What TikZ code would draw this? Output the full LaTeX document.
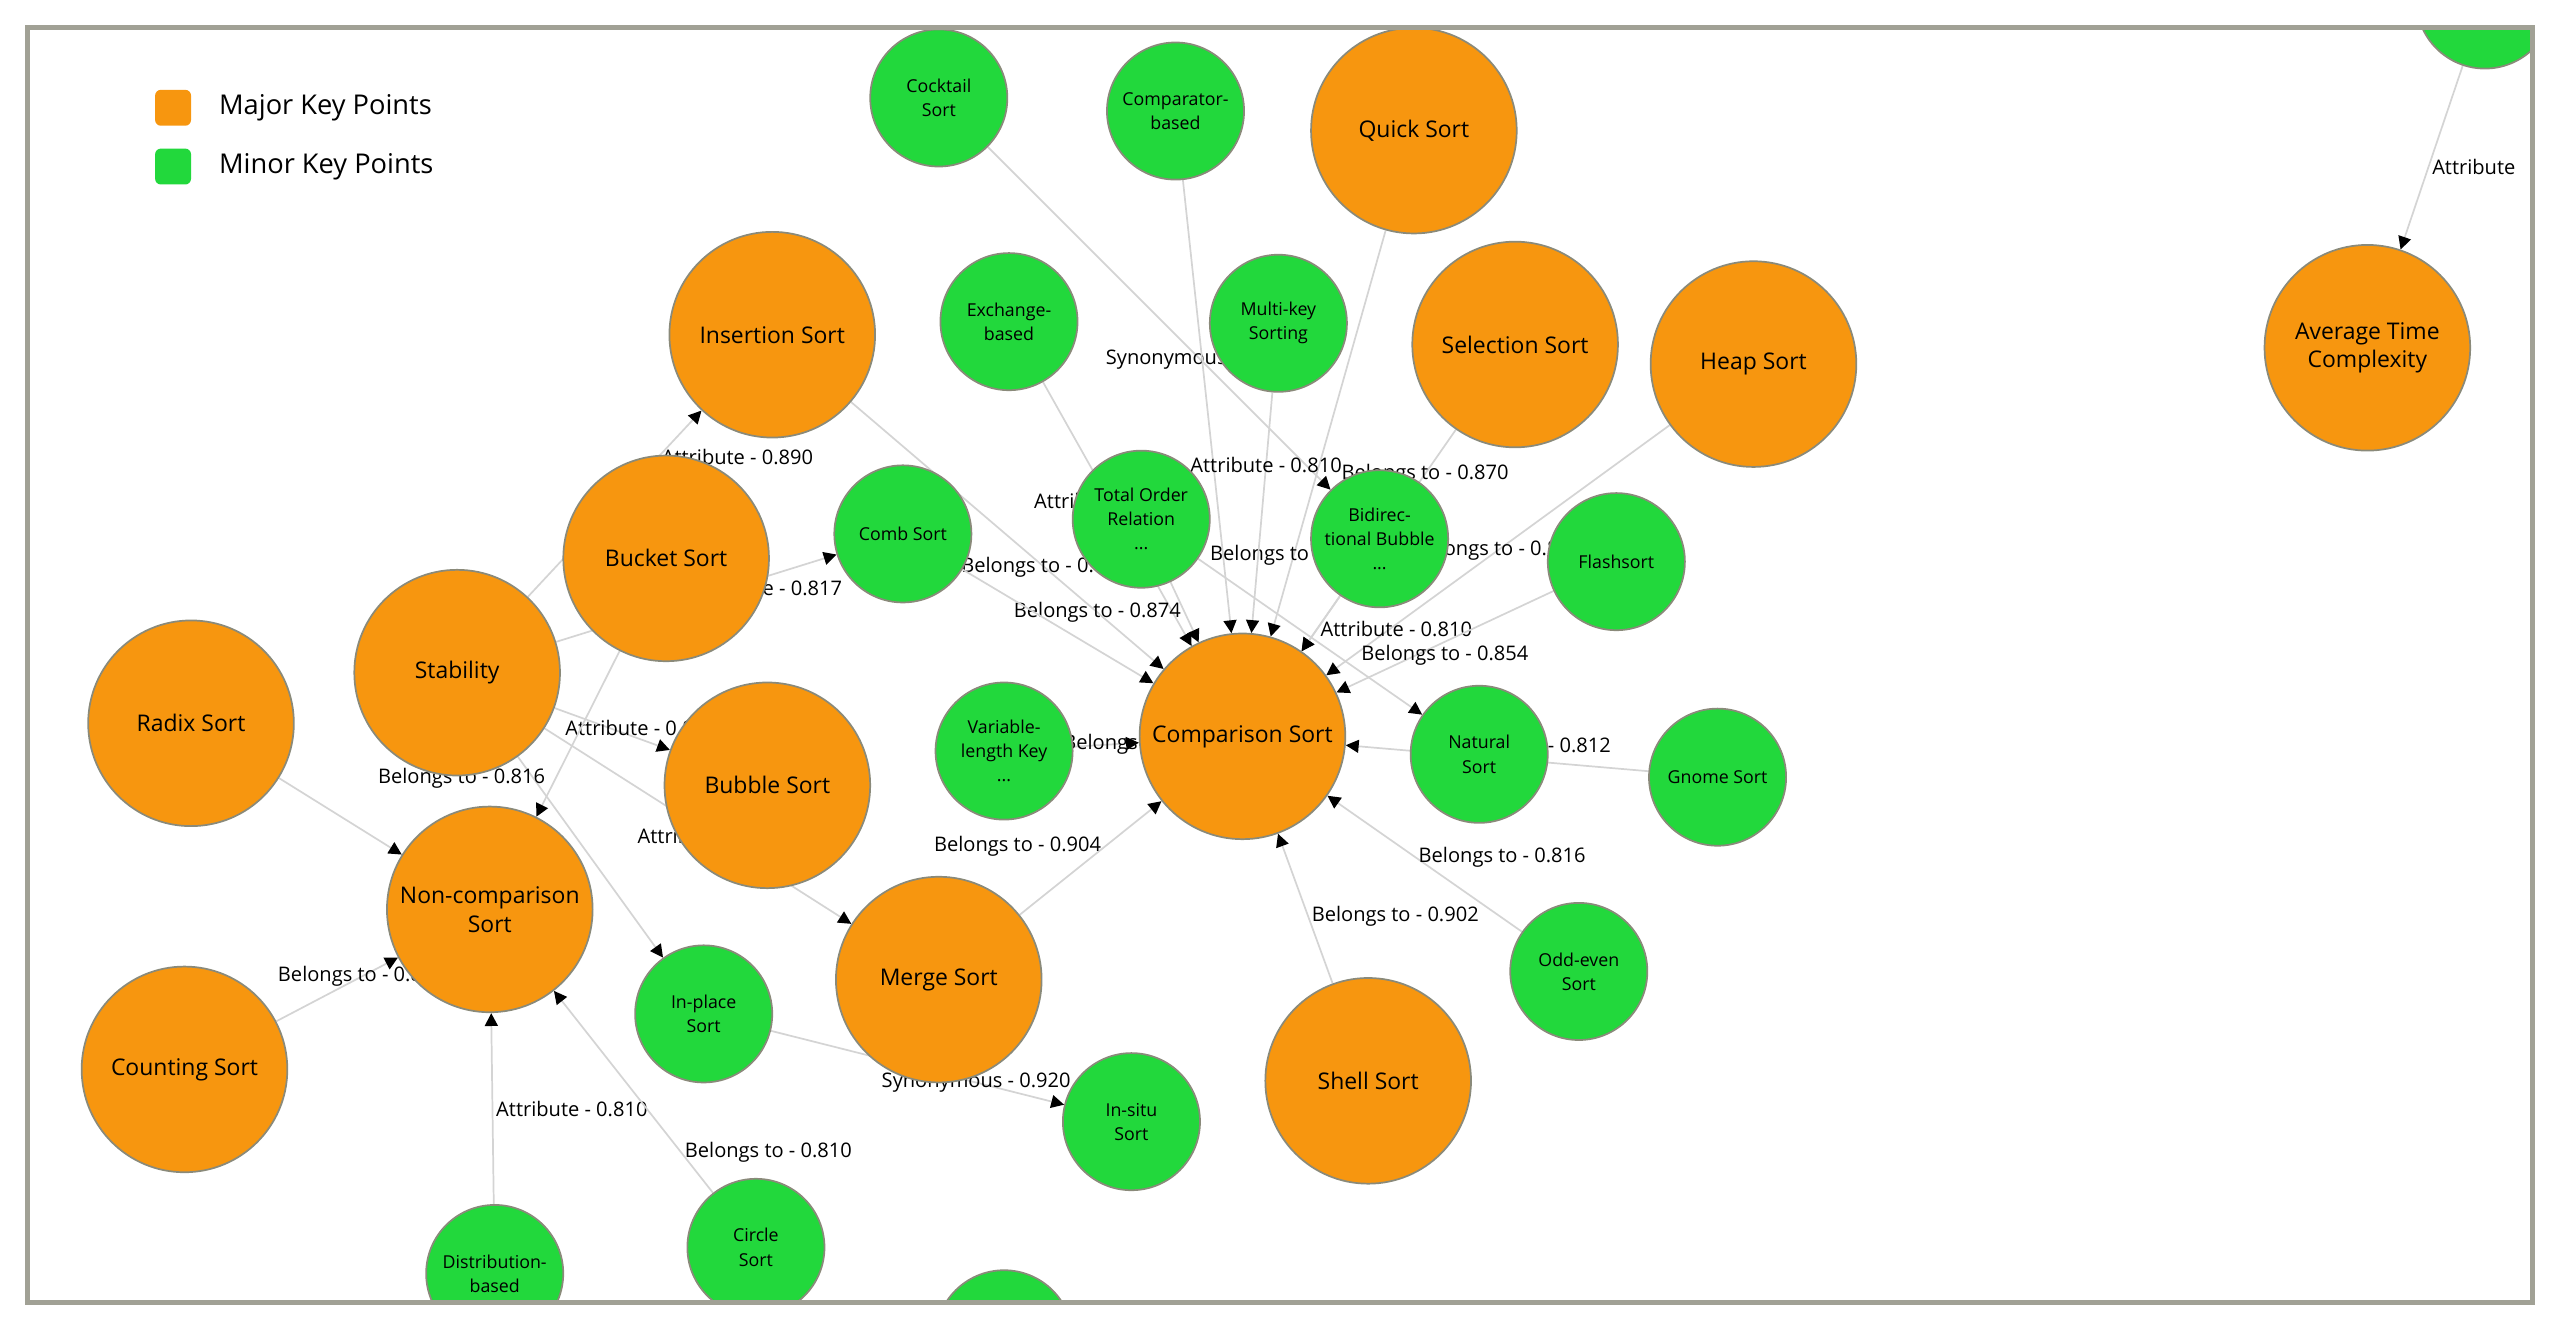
\documentclass[tikz,border=0pt]{standalone}
\usepackage{fontspec}
\setmainfont{Open Sans}
\usetikzlibrary{arrows.meta,backgrounds}
\definecolor{major}{HTML}{F7960F}
\definecolor{minor}{HTML}{22D83C}
\definecolor{rim}{HTML}{8A8A7A}
\definecolor{link}{HTML}{D4D4D4}
\tikzset{
  major/.style={circle,draw=rim,line width=0.6pt,fill=major,minimum size=2.52cm,inner sep=0pt,align=center,font=\fontsize{8}{10}\selectfont},
  minor/.style={circle,draw=rim,line width=0.6pt,fill=minor,minimum size=1.68cm,inner sep=0pt,align=center,font=\fontsize{6.2}{8.4}\selectfont},
  rel/.style={draw=link,line width=0.6pt,-{Triangle[length=4.5pt,width=4.5pt,black]}},
  lbl/.style={font=\fontsize{7}{8}\selectfont,inner sep=1pt},
}
\begin{document}
\begin{tikzpicture}[x=0.02cm,y=-0.02cm]
\useasboundingbox (0,0) rectangle (1568,819);
\begin{scope}
\clip (17,17) rectangle (1551,798);
% legend
\node[fill=major,rounded corners=2pt,minimum size=0.44cm,inner sep=0pt] (kmajor) at (106,66) {};
\node[fill=minor,rounded corners=2pt,minimum size=0.44cm,inner sep=0pt] (kminor) at (106,102) {};
\node[anchor=west,font=\fontsize{9.5}{11}\selectfont] at (128,66) {Major Key Points};
\node[anchor=west,font=\fontsize{9.5}{11}\selectfont] at (128,102) {Minor Key Points};
% major key points
\node[major] (quick) at (866,80) {Quick Sort};
\node[major] (avg) at (1450,213) {Average Time\\Complexity};
\node[major] (insertion) at (473,205) {Insertion Sort};
\node[major] (selection) at (928,211) {Selection Sort};
\node[major] (heap) at (1074,223) {Heap Sort};
\node[major] (bucket) at (408,342) {Bucket Sort};
\node[major] (radix) at (117,443) {Radix Sort};
\node[major] (stability) at (280,412) {Stability};
\node[major] (bubble) at (470,481) {Bubble Sort};
\node[major] (comparison) at (761,451) {Comparison Sort};
\node[major] (noncomp) at (300,557) {Non-comparison\\Sort};
\node[major] (counting) at (113,655) {Counting Sort};
\node[major] (merge) at (575,600) {Merge Sort};
\node[major] (shell) at (838,662) {Shell Sort};
% minor key points
\node[minor] (corner) at (1522,0) {};
\node[minor] (cocktail) at (575,60) {Cocktail\\Sort};
\node[minor] (comparator) at (720,68) {Comparator-\\based};
\node[minor] (exchange) at (618,197) {Exchange-\\based};
\node[minor] (multikey) at (783,198) {Multi-key\\Sorting};
\node[minor] (comb) at (553,327) {Comb Sort};
\node[minor] (total) at (699,318) {Total Order\\Relation\\...};
\node[minor] (bidir) at (845,330) {Bidirec-\\tional Bubble\\...};
\node[minor] (flash) at (990,344) {Flashsort};
\node[minor] (varlen) at (615,460) {Variable-\\length Key\\...};
\node[minor] (natural) at (906,462) {Natural\\Sort};
\node[minor] (gnome) at (1052,476) {Gnome Sort};
\node[minor] (inplace) at (431,621) {In-place\\Sort};
\node[minor] (oddeven) at (967,595) {Odd-even\\Sort};
\node[minor] (insitu) at (693,687) {In-situ\\Sort};
\node[minor] (distrib) at (303,780) {Distribution-\\based};
\node[minor] (circlesort) at (463,764) {Circle\\Sort};
\node[minor] (bottom) at (615,820) {};
\end{scope}
\draw[rim!80,line width=1.8pt] (17,17) rectangle (1551,798);
% relations
\begin{pgfonlayer}{background}
\draw[rel] (corner) -- node[lbl,pos=0.55,right] {Attribute} (avg);
\draw[rel] (cocktail) -- node[lbl,pos=0.62] {Synonymous - 0.930} (bidir);
\draw[rel] (comparator) -- (comparison);
\draw[rel] (quick) -- node[lbl,pos=0.8] {Belongs to - 0.880} (comparison);
\draw[rel] (multikey) -- node[lbl,pos=0.3] {Attribute - 0.810} (comparison);
\draw[rel] (selection) -- node[lbl,pos=0.2] {Belongs to - 0.870} (comparison);
\draw[rel] (heap) -- node[lbl,pos=0.5] {Belongs to - 0.878} (comparison);
\draw[rel] (exchange) -- node[lbl,pos=0.45] {Attribute - 0.810} (comparison);
\draw[rel] (insertion) -- node[lbl,pos=0.62] {Belongs to - 0.871} (comparison);
\draw[rel] (total) -- node[lbl,pos=0.5,left] {Belongs to - 0.874} (comparison);
\draw[rel] (comb) -- (comparison);
\draw[rel] (bidir) -- node[lbl,pos=0.6,right] {Attribute - 0.810} (comparison);
\draw[rel] (flash) -- node[lbl,pos=0.5,below] {Belongs to - 0.854} (comparison);
\draw[rel] (varlen) -- node[lbl,pos=0.6] {Belongs to} (comparison);
\draw[rel] (gnome) -- node[lbl,pos=0.4,above] {Belongs to - 0.812} (comparison);
\draw[rel] (oddeven) -- node[lbl,pos=0.55,right] {Belongs to - 0.816} (comparison);
\draw[rel] (shell) -- node[lbl,pos=0.45,right] {Belongs to - 0.902} (comparison);
\draw[rel] (merge) -- node[lbl,pos=0.6,left] {Belongs to - 0.904} (comparison);
\draw[rel] (total) -- (natural);
\draw[rel] (stability) -- node[lbl,pos=0.75,right] {Attribute - 0.890} (insertion);
\draw[rel] (stability) -- node[lbl,pos=0.75,below] {Attribute - 0.817} (comb);
\draw[rel] (stability) -- node[lbl,pos=0.75,above] {Attribute - 0.815} (bubble);
\draw[rel] (stability) -- node[lbl,pos=0.55] {Attribute - 0.812} (merge);
\draw[rel] (stability) -- (inplace);
\draw[rel] (bucket) -- node[lbl,pos=0.85,above left] {Belongs to - 0.816} (noncomp);
\draw[rel] (radix) -- (noncomp);
\draw[rel] (counting) -- node[lbl,pos=0.7] {Belongs to - 0.816} (noncomp);
\draw[rel] (distrib) -- node[lbl,pos=0.5,right] {Attribute - 0.810} (noncomp);
\draw[rel] (circlesort) -- node[lbl,pos=0.2,right] {Belongs to - 0.810} (noncomp);
\draw[rel] (inplace) -- node[lbl,pos=0.7] {Synonymous - 0.920} (insitu);
\end{pgfonlayer}
\end{tikzpicture}
\end{document}
